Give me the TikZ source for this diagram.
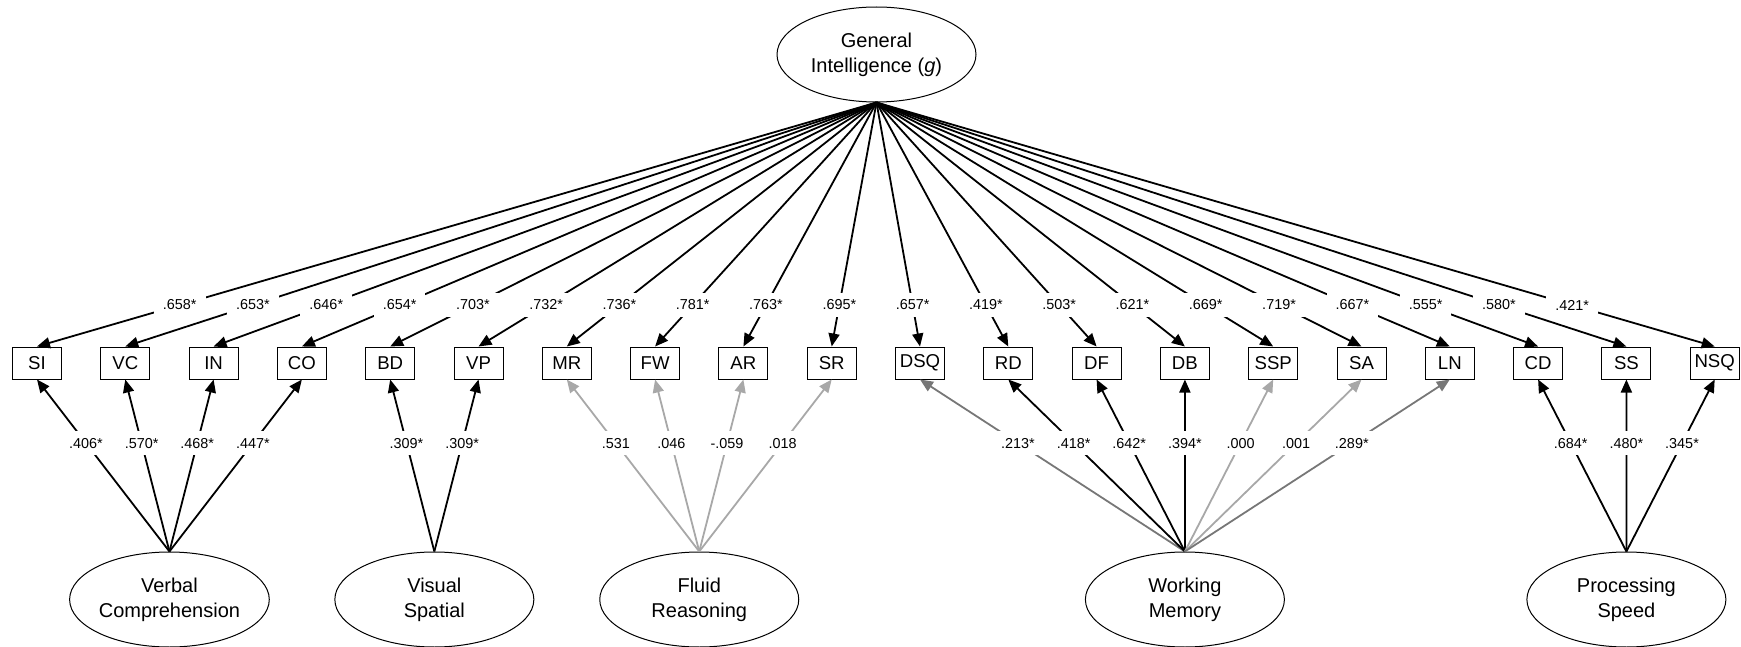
\documentclass[tikz,border=0pt]{standalone}
\usepackage{fontspec}
\setmainfont{Liberation Sans}
\usetikzlibrary{arrows.meta,shapes.geometric}
\definecolor{lgray}{HTML}{A8A8A8}
\definecolor{mgray}{HTML}{777777}
\begin{document}
\begin{tikzpicture}[x=0.5pt,y=-0.5pt,
  obs/.style={draw, line width=0.5pt, minimum width=24.5pt, minimum height=16pt, inner sep=0pt, font=\fontsize{9.3}{10}\selectfont},
  lat/.style={draw, ellipse, line width=0.5pt, minimum width=99.5pt, minimum height=47.5pt, inner sep=0pt, align=center, font=\fontsize{10}{12.5}\selectfont},
  arr/.style={line width=0.9pt, -{Triangle[length=6.5pt,width=5.5pt]}},
  lab/.style={fill=white, inner xsep=4.5pt, inner ysep=3.5pt, font=\fontsize{7.2}{8}\selectfont}]
\useasboundingbox (0,0) rectangle (1741,647);
\node[lat] (g) at (876.5,54.5) {General\\Intelligence (\textit{g})};
\node[lat] (vc) at (169.45,599.5) {Verbal\\Comprehension};
\node[lat] (vs) at (434.35,599.5) {Visual\\Spatial};
\node[lat] (fr) at (699.25,599.5) {Fluid\\Reasoning};
\node[lat] (wm) at (1184.9,599.5) {Working\\Memory};
\node[lat] (ps) at (1626.4,599.5) {Processing\\Speed};
\foreach \n [count=\i from 0] in {SI,VC,IN,CO,BD,VP,MR,FW,AR,SR,DSQ,RD,DF,DB,SSP,SA,LN,CD,SS,NSQ}
  \node[obs] (\n) at (37+88.3*\i,363) {\n};
% loadings on g
\foreach \n in {SI,VC,IN,CO,BD,VP,MR,FW,AR,SR,DSQ,RD,DF,DB,SSP,SA,LN,CD,SS,NSQ}
  \draw[arr] (g.south) -- coordinate[pos=0.83] (t\n) (\n.north);
% loadings on group factors
\foreach \l/\n/\c in {vc/SI/black,vc/VC/black,vc/IN/black,vc/CO/black,vs/BD/black,vs/VP/black,
  fr/MR/lgray,fr/FW/lgray,fr/AR/lgray,fr/SR/lgray,
  wm/DSQ/mgray,wm/RD/black,wm/DF/black,wm/DB/black,wm/SSP/lgray,wm/SA/lgray,wm/LN/mgray,
  ps/CD/black,ps/SS/black,ps/NSQ/black}
  \draw[arr,color=\c] (\l.north) -- coordinate[pos=0.63] (b\n) (\n.south);
% labels
\foreach \n/\v in {SI/.658*,VC/.653*,IN/.646*,CO/.654*,BD/.703*,VP/.732*,MR/.736*,FW/.781*,AR/.763*,SR/.695*,
  DSQ/.657*,RD/.419*,DF/.503*,DB/.621*,SSP/.669*,SA/.719*,LN/.667*,CD/.555*,SS/.580*,NSQ/.421*}
  \node[lab] at (t\n) {\v};
\foreach \n/\v in {SI/.406*,VC/.570*,IN/.468*,CO/.447*,BD/.309*,VP/.309*,MR/.531,FW/.046,AR/-.059,SR/.018,
  DSQ/.213*,RD/.418*,DF/.642*,DB/.394*,SSP/.000,SA/.001,LN/.289*,CD/.684*,SS/.480*,NSQ/.345*}
  \node[lab] at (b\n) {\v};
\end{tikzpicture}
\end{document}
